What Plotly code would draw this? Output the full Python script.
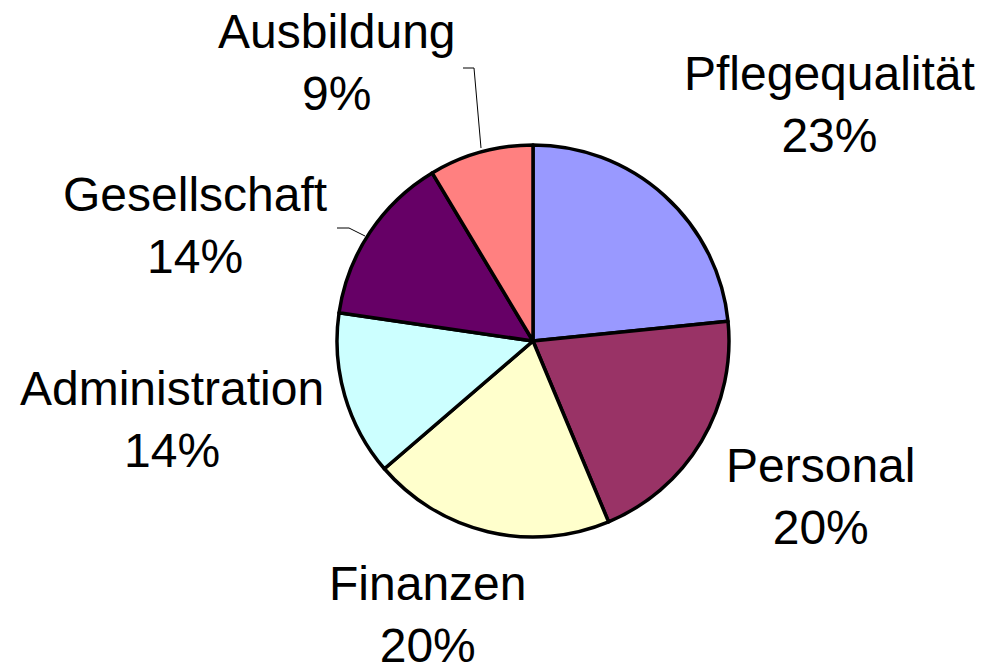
import plotly.graph_objects as go

# pie data, clockwise from 12 o'clock
labels = ["Pflegequalität", "Personal", "Finanzen", "Administration", "Gesellschaft", "Ausbildung"]
values = [23.4, 20.3, 20.0, 13.6, 14.1, 8.6]
colors = ["#9999FF", "#993366", "#FFFFCC", "#CCFFFF", "#660066", "#FF8080"]

W, H = 983, 671

# label block centres in pixels (layout only)
label_pos = {
    "Pflegequalität": (829, 104),
    "Personal": (820, 496),
    "Finanzen": (427, 614),
    "Administration": (172, 419),
    "Gesellschaft": (195, 226),
    "Ausbildung": (337, 62),
}

def px(x):
    return x / W

def py(y):
    return 1 - y / H

total = sum(values)

fig = go.Figure()

fig.add_trace(go.Pie(
    labels=labels,
    values=values,
    sort=False,
    direction="clockwise",
    rotation=0,
    marker=dict(colors=colors, line=dict(color="black", width=3.5)),
    textinfo="none",
    hoverinfo="skip",
    showlegend=False,
    domain=dict(x=[px(337), px(729)], y=[py(537), py(145)]),
))

font = dict(family="Liberation Sans, Arial, sans-serif", size=48, color="black")

for lab, val in zip(labels, values):
    x0, y0 = label_pos[lab]
    pct = round(val / total * 100)
    fig.add_annotation(
        x=px(x0), y=py(y0), xref="paper", yref="paper",
        text=f"{lab}<br>{pct}%", showarrow=False,
        xanchor="center", yanchor="middle", font=font,
    )

# leader lines for the two upper-left labels
def leader(points):
    path = "M " + " L ".join(f"{px(x)},{py(y)}" for x, y in points)
    fig.add_shape(type="path", path=path, xref="paper", yref="paper",
                  line=dict(color="black", width=1))

leader([(463, 68), (474, 68), (481, 148)])
leader([(337, 228), (349, 228), (365, 236)])

fig.update_layout(
    width=W, height=H,
    margin=dict(l=0, r=0, t=0, b=0),
    paper_bgcolor="white",
    plot_bgcolor="white",
)

# drop the default body margin so the figure fills the window exactly
fig.write_html("out.html", config={"displayModeBar": False},
               post_script="document.body.style.margin='0px';")
